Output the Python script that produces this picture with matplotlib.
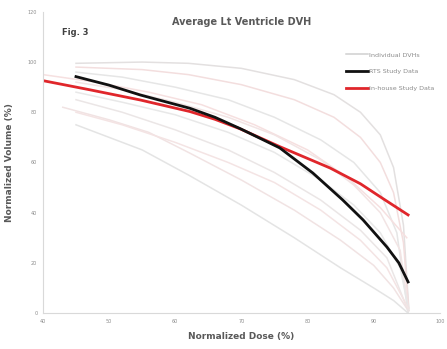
import matplotlib
matplotlib.use("Agg")
import matplotlib.pyplot as plt

# Individual DVH curves (dose %, volume %)
IND_CURVES = [
    ([45, 55, 62, 70, 78, 84, 88, 91, 93, 94.5, 95.3],
     [99.5, 100, 99.5, 97.5, 93, 87, 80, 71, 58, 35, 2], "#e3e0e0"),
    ([45, 55, 62, 70, 78, 84, 88, 91, 93, 94.5, 95.3],
     [98, 97, 95, 91, 85, 78, 70, 60, 48, 28, 1], "#f3dede"),
    ([45, 52, 60, 68, 75, 82, 87, 91, 93.5, 95.2],
     [96, 94, 90, 85, 78, 69, 60, 48, 32, 0], "#e6e6e6"),
    ([40, 48, 56, 64, 72, 80, 86, 91, 95],
     [95, 92, 88, 83, 75, 65, 54, 42, 30], "#f6e0e0"),
    ([45, 52, 60, 68, 75, 82, 87, 91, 94, 95.3],
     [92, 89, 84, 78, 71, 61, 51, 40, 25, 1], "#f2e4e4"),
    ([45, 52, 60, 68, 75, 82, 87, 91, 94, 95.3],
     [88, 84, 79, 72, 64, 53, 43, 32, 18, 1], "#e8e8e8"),
    ([43, 50, 56, 62, 70, 78, 85, 90, 93, 95.2],
     [82, 77, 72, 64, 53, 41, 29, 19, 10, 1], "#f1e3e3"),
    ([45, 50, 55, 62, 70, 78, 85, 90, 93, 95.2],
     [75, 70, 65, 55, 43, 30, 18, 10, 5, 0], "#e4e4e4"),
    ([45, 52, 60, 68, 75, 82, 88, 92, 95.2],
     [85, 80, 73, 65, 56, 45, 33, 22, 1], "#ebe6e6"),
    ([45, 52, 60, 68, 75, 82, 88, 92, 95.2],
     [80, 75, 68, 60, 52, 41, 29, 18, 2], "#f4e4e4"),
]

# RTS study average
RTS_DOSE = [45.0, 50.0, 54.7, 62.2, 66.0, 69.8, 75.8, 80.8, 85.3, 88.4, 92.0, 93.8, 95.2]
RTS_VOL = [94.2, 90.8, 86.9, 81.6, 78.0, 73.5, 65.8, 55.8, 45.1, 37.1, 26.3, 20.0, 12.4]

# In-house study average
INH_DOSE = [40.0, 47.0, 54.7, 62.2, 66.0, 69.8, 75.8, 83.4, 88.0, 91.4, 95.2]
INH_VOL = [92.6, 89.0, 84.9, 80.3, 77.2, 73.4, 66.3, 57.8, 51.5, 45.6, 39.1]

XTICKS = [40, 50, 60, 70, 80, 90, 100]
YTICKS = [0, 20, 40, 60, 80, 100, 120]

GRAY = "#8c8c8c"
AXIS = "#d9d9d9"

fig = plt.figure(figsize=(4.47, 3.49), dpi=100)
ax = fig.add_axes([0.096, 0.103, 0.888, 0.863])

for i, (d, v, c) in enumerate(IND_CURVES):
    ax.plot(d, v, color=c, lw=1.1, zorder=1, solid_joinstyle="round",
            label="Individual DVHs" if i == 0 else None)

ax.plot(RTS_DOSE, RTS_VOL, color="#111111", lw=2.0, zorder=3,
        solid_joinstyle="round", label="RTS Study Data")
ax.plot(INH_DOSE, INH_VOL, color="#e0262b", lw=2.0, zorder=2,
        solid_joinstyle="round", label="In-house Study Data")

ax.set_xlim(40, 100)
ax.set_ylim(0, 120)
ax.set_xticks(XTICKS)
ax.set_yticks(YTICKS)
ax.tick_params(length=0, labelsize=3.5, colors=GRAY, pad=4)
for s in ["top", "right"]:
    ax.spines[s].set_visible(False)
for s in ["left", "bottom"]:
    ax.spines[s].set_color(AXIS)
    ax.spines[s].set_linewidth(0.8)

ax.set_xlabel("Normalized Dose (%)", fontsize=6.5, fontweight="bold",
              color="#595959", labelpad=6)
ax.set_ylabel("Normalized Volume (%)", fontsize=6.5, fontweight="bold",
              color="#595959", labelpad=10)

fig.text(0.541, 0.937, "Average Lt Ventricle DVH", ha="center", va="center",
         fontsize=7, fontweight="bold", color="#595959")
fig.text(0.168, 0.908, "Fig. 3", ha="center", va="center",
         fontsize=6, fontweight="bold", color="#404040")

leg = ax.legend(loc="upper right", bbox_to_anchor=(1.0, 0.885), frameon=False,
                fontsize=4.6, handlelength=3.4, handletextpad=0.1,
                labelspacing=1.75)
for t in leg.get_texts():
    t.set_color(GRAY)
leg.get_lines()[0].set_color("#d0d0d0")

fig.savefig("out.png", dpi=100)
